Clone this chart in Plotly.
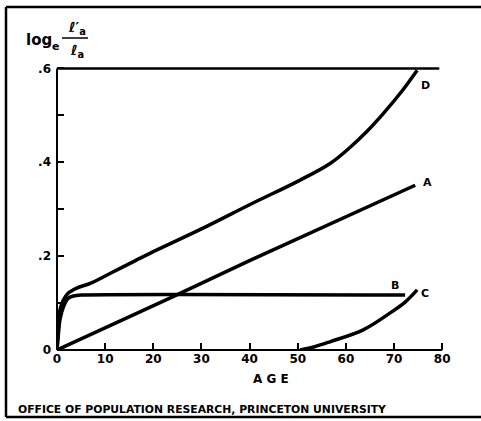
import plotly.graph_objects as go

# ---- data ----
age_A = [0, 24, 40.1, 74.4]
val_A = [0, 0.113, 0.191, 0.351]

age_B = [0, 0.3, 0.6, 1.3, 2.3, 3.4, 5, 72.3]
val_B = [0, 0.035, 0.064, 0.091, 0.110, 0.115, 0.117, 0.117]

age_C = [50.5, 53.5, 56.8, 63.6, 69.2, 72.3, 74.8]
val_C = [0, 0.007, 0.018, 0.043, 0.079, 0.102, 0.128]

age_D = [0, 0.3, 0.6, 1.3, 2.3, 4.1, 6.9, 11, 16.2, 19.3, 30, 40.1, 50.5,
         56.8, 60.9, 64.5, 67.8, 71.9, 74.8]
val_D = [0, 0.05, 0.085, 0.106, 0.121, 0.132, 0.142, 0.163, 0.19, 0.206,
         0.258, 0.31, 0.362, 0.398, 0.432, 0.467, 0.504, 0.555, 0.596]

x_ticks = [0, 10, 20, 30, 40, 50, 60, 70, 80]
y_ticks = [0, 0.2, 0.4, 0.6]
y_ticktext = ["0", ".2", ".4", ".6"]
y_minor = [0.1, 0.3, 0.5]

curve_labels = ["A", "B", "C", "D"]
label_pos = [(76.9, 0.357), (70.2, 0.138), (76.5, 0.121), (76.5, 0.564)]

X_MAX, Y_MAX = 81, 0.62
LIMIT_LINE = 0.6

# ---- layout geometry ----
W, H = 481, 421
ML, MR, MB, MT = 57, 34, 71, 59
PW = W - ML - MR
PH = H - MB - MT


def px(xp):
    return (xp - ML) / PW


def py(yp):
    return (H - MB - yp) / PH


FONT = "DejaVu Sans"
LW = 3.5

fig = go.Figure()
for a, v, sh, sm in [(age_A, val_A, "linear", 0), (age_B, val_B, "spline", 0.6),
                     (age_C, val_C, "spline", 1.0), (age_D, val_D, "spline", 1.0)]:
    fig.add_trace(go.Scatter(x=a, y=v, mode="lines",
                             line=dict(color="black", width=LW, shape=sh,
                                       smoothing=sm),
                             showlegend=False, hoverinfo="skip"))

frame = dict(color="black", width=2.5)
shapes = [
    # outer frame: top, left, bottom (right side lies beyond the picture)
    dict(type="line", xref="paper", yref="paper", x0=px(6), x1=px(520),
         y0=py(7), y1=py(7), line=frame),
    dict(type="line", xref="paper", yref="paper", x0=px(6), x1=px(6),
         y0=py(7), y1=py(417), line=frame),
    dict(type="line", xref="paper", yref="paper", x0=px(6), x1=px(520),
         y0=py(417), y1=py(417), line=frame),
    # x axis line (0..80)
    dict(type="line", xref="paper", yref="paper", x0=0, x1=80 / X_MAX,
         y0=0, y1=0, line=dict(color="black", width=2)),
    # y axis line (0..0.6)
    dict(type="line", xref="paper", yref="paper", x0=0, x1=0,
         y0=0, y1=LIMIT_LINE / Y_MAX, line=dict(color="black", width=2)),
    # horizontal line at 0.6
    dict(type="line", xref="paper", yref="paper", x0=0, x1=79.4 / X_MAX,
         y0=LIMIT_LINE / Y_MAX, y1=LIMIT_LINE / Y_MAX,
         line=dict(color="black", width=2.5)),
    # fraction bar in y title
    dict(type="line", xref="paper", yref="paper", x0=px(62), x1=px(88),
         y0=py(38), y1=py(38), line=dict(color="black", width=1.5)),
]

annotations = []
for lab, (xa, ya) in zip(curve_labels, label_pos):
    annotations.append(dict(x=xa, y=ya, xref="x", yref="y", text=lab,
                            showarrow=False, xanchor="center", yanchor="middle",
                            font=dict(family=FONT, size=11, color="black",
                                      weight="bold")))

annotations += [
    dict(x=px(39), y=py(40), xref="paper", yref="paper", text="log",
         showarrow=False, xanchor="center", yanchor="middle",
         font=dict(family=FONT, size=15, color="black", weight="bold")),
    dict(x=px(55), y=py(47), xref="paper", yref="paper", text="e",
         showarrow=False, xanchor="center", yanchor="middle",
         font=dict(family=FONT, size=11, color="black", weight="bold")),
    dict(x=px(77), y=py(28), xref="paper", yref="paper",
         text="ℓ′<sub>a</sub>",
         showarrow=False, xanchor="center", yanchor="middle",
         font=dict(family=FONT, size=14, color="black", weight="bold")),
    dict(x=px(77), y=py(51), xref="paper", yref="paper",
         text="ℓ<sub>a</sub>",
         showarrow=False, xanchor="center", yanchor="middle",
         font=dict(family=FONT, size=14, color="black", weight="bold")),
    dict(x=px(271), y=py(379), xref="paper", yref="paper", text="A G E",
         showarrow=False, xanchor="center", yanchor="middle",
         font=dict(family=FONT, size=12, color="black", weight="bold")),
    dict(x=px(16), y=py(409), xref="paper", yref="paper",
         text="OFFICE OF POPULATION RESEARCH, PRINCETON UNIVERSITY",
         showarrow=False, xanchor="left", yanchor="middle",
         font=dict(family=FONT, size=10.8, color="black", weight="bold")),
]

fig.update_layout(
    width=W, height=H,
    margin=dict(l=ML, r=MR, t=MT, b=MB, pad=0),
    paper_bgcolor="white", plot_bgcolor="white",
    shapes=shapes, annotations=annotations,
    xaxis=dict(range=[0, X_MAX], tickvals=x_ticks, ticks="inside",
               ticklen=7, tickwidth=2, tickcolor="black", showline=False,
               showgrid=False, zeroline=False,
               tickfont=dict(family=FONT, size=12, color="black",
                             weight="bold")),
    yaxis=dict(range=[0, Y_MAX], tickvals=y_ticks, ticktext=y_ticktext,
               ticks="inside", ticklen=7, tickwidth=2, tickcolor="black",
               ticklabelstandoff=5,
               minor=dict(tickvals=y_minor, ticks="inside", ticklen=7,
                          tickwidth=2, tickcolor="black", showgrid=False),
               showline=False, showgrid=False, zeroline=False,
               tickfont=dict(family=FONT, size=12, color="black",
                             weight="bold")),
)

fig.write_html(
    "out.html",
    config={"displayModeBar": False},
    post_script="document.body.style.margin='0';"
                "document.documentElement.style.overflow='hidden';",
)
